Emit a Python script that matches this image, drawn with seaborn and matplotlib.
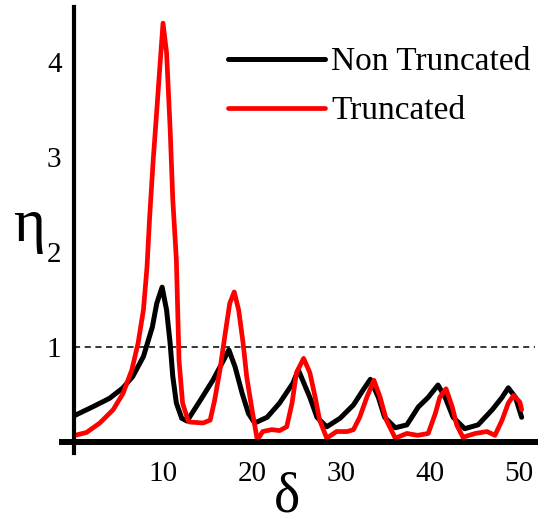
import numpy as np
import pandas as pd
import matplotlib
matplotlib.use("Agg")
import matplotlib.pyplot as plt
import seaborn as sns

## Values

# Non truncated curve (black)
delta_nt = [0.1, 2.1, 4.0, 5.5, 6.6, 7.8, 8.8, 9.3, 9.9, 10.4, 10.8, 11.1, 11.5, 12.1,
            12.7, 14.2, 15.6, 16.8, 17.4, 18.1, 18.9, 19.6, 20.3, 21.7, 23.1, 24.6,
            25.2, 26.5, 27.3, 28.4, 29.9, 31.4, 32.5, 33.3, 34.2, 34.9, 36.1, 37.4,
            38.7, 39.8, 40.9, 41.7, 42.6, 43.9, 45.4, 47.0, 48.1, 48.8, 49.6, 50.3]
eta_nt = [0.28, 0.37, 0.46, 0.57, 0.69, 0.90, 1.21, 1.46, 1.63, 1.39, 1.04, 0.69, 0.41, 0.25,
          0.22, 0.44, 0.65, 0.86, 0.97, 0.79, 0.51, 0.30, 0.20, 0.26, 0.41, 0.62,
          0.76, 0.47, 0.26, 0.16, 0.25, 0.39, 0.55, 0.66, 0.47, 0.26, 0.15, 0.18,
          0.37, 0.47, 0.60, 0.47, 0.26, 0.14, 0.18, 0.34, 0.47, 0.57, 0.47, 0.26]

# Truncated curve (red)
delta_tr = [0.1, 1.4, 2.9, 4.4, 5.5, 6.5, 7.2, 7.8, 8.2, 8.5, 8.9, 9.3, 9.7, 10.0,
            10.4, 10.8, 11.1, 11.5, 11.8, 12.2, 12.8, 13.0, 14.5, 15.3, 15.8, 16.4,
            17.0, 17.5, 18.0, 18.5, 19.0, 19.4, 20.0, 20.6, 21.2, 22.2, 23.1, 23.9,
            24.5, 25.0, 25.8, 26.5, 27.1, 27.6, 28.4, 29.5, 30.7, 31.4, 32.1, 32.9,
            33.7, 34.4, 35.1, 36.1, 37.4, 38.6, 39.8, 40.6, 41.1, 41.8, 42.5, 43.0,
            43.7, 45.1, 46.4, 47.3, 48.1, 48.8, 49.4, 50.1, 50.3]
eta_tr = [0.07, 0.10, 0.20, 0.34, 0.51, 0.76, 1.04, 1.39, 1.84, 2.37, 2.97, 3.49, 4.02, 4.41,
          4.10, 3.30, 2.55, 1.92, 0.86, 0.41, 0.23, 0.21, 0.20, 0.23, 0.44, 0.76,
          1.15, 1.46, 1.58, 1.39, 1.04, 0.69, 0.34, 0.02, 0.11, 0.13, 0.12, 0.16,
          0.41, 0.73, 0.88, 0.73, 0.47, 0.23, 0.04, 0.11, 0.11, 0.13, 0.26, 0.47,
          0.65, 0.47, 0.23, 0.04, 0.09, 0.07, 0.09, 0.30, 0.47, 0.56, 0.37, 0.18,
          0.05, 0.09, 0.11, 0.07, 0.23, 0.41, 0.49, 0.42, 0.34]

x_ticks = [10, 20, 30, 40, 50]
y_ticks = [1, 2, 3, 4]
threshold = 1
series_names = ["Non Truncated", "Truncated"]

## Figure

sns.set_style("white")
plt.rcParams['font.family'] = ['Liberation Serif', 'DejaVu Serif']
plt.rcParams['text.color'] = 'black'

fig = plt.figure(figsize=(5.39, 5.24), dpi=100)
ax = fig.add_axes([62 / 539, 1 - 453 / 524, 473 / 539, 446 / 524])

sns.lineplot(x=delta_nt, y=eta_nt, sort=False, estimator=None, color="black",
             linewidth=3.6, label=series_names[0], ax=ax, zorder=3)
sns.lineplot(x=delta_tr, y=eta_tr, sort=False, estimator=None, color="#ff0000",
             linewidth=3.4, label=series_names[1], ax=ax, zorder=4)

xmin, xmax = -1.35, 51.8
ax.set_xlim(xmin, xmax)
ax.set_ylim(-0.116, 4.58)

# dashed reference line at eta = 1
ax.axhline(threshold, xmin=(0 - xmin) / (xmax - xmin), xmax=1, color="black",
           linewidth=1.1, linestyle=(0, (4, 3)), zorder=2)

# Axes crossing at the origin
ax.spines['left'].set_position(('data', 0))
ax.spines['bottom'].set_position(('data', 0))
ax.spines['top'].set_visible(False)
ax.spines['right'].set_visible(False)
ax.spines['left'].set_linewidth(3.0)
ax.spines['bottom'].set_linewidth(4.3)
ax.spines['left'].set_color("black")
ax.spines['bottom'].set_color("black")
ax.spines['left'].set_zorder(5)
ax.spines['bottom'].set_zorder(5)

ax.set_xticks(x_ticks)
ax.set_yticks(y_ticks)
ax.set_xticklabels([str(t) for t in x_ticks])
ax.set_yticklabels([str(t) for t in y_ticks])
ax.tick_params(axis='both', direction='in', length=4, width=1.2, labelsize=21,
               colors="black")
ax.tick_params(axis='x', pad=14)
ax.tick_params(axis='y', pad=9)

# Axis labels placed as in the reference
fig.text(29 / 539, 1 - 226 / 524, "η", fontsize=44, ha='center', va='center')
fig.text(287 / 539, 1 - 511 / 524, "δ", fontsize=40, ha='center', va='baseline')

ax.legend(loc='upper left', bbox_to_anchor=(228 / 539, 1 - 47 / 524),
          bbox_transform=fig.transFigure, frameon=False, handlelength=2.9,
          handletextpad=0.2, labelspacing=0.55, borderpad=0, borderaxespad=0,
          labelcolor='black', prop={'family': 'Liberation Serif', 'size': 24})

fig.savefig("out.png", dpi=100)
